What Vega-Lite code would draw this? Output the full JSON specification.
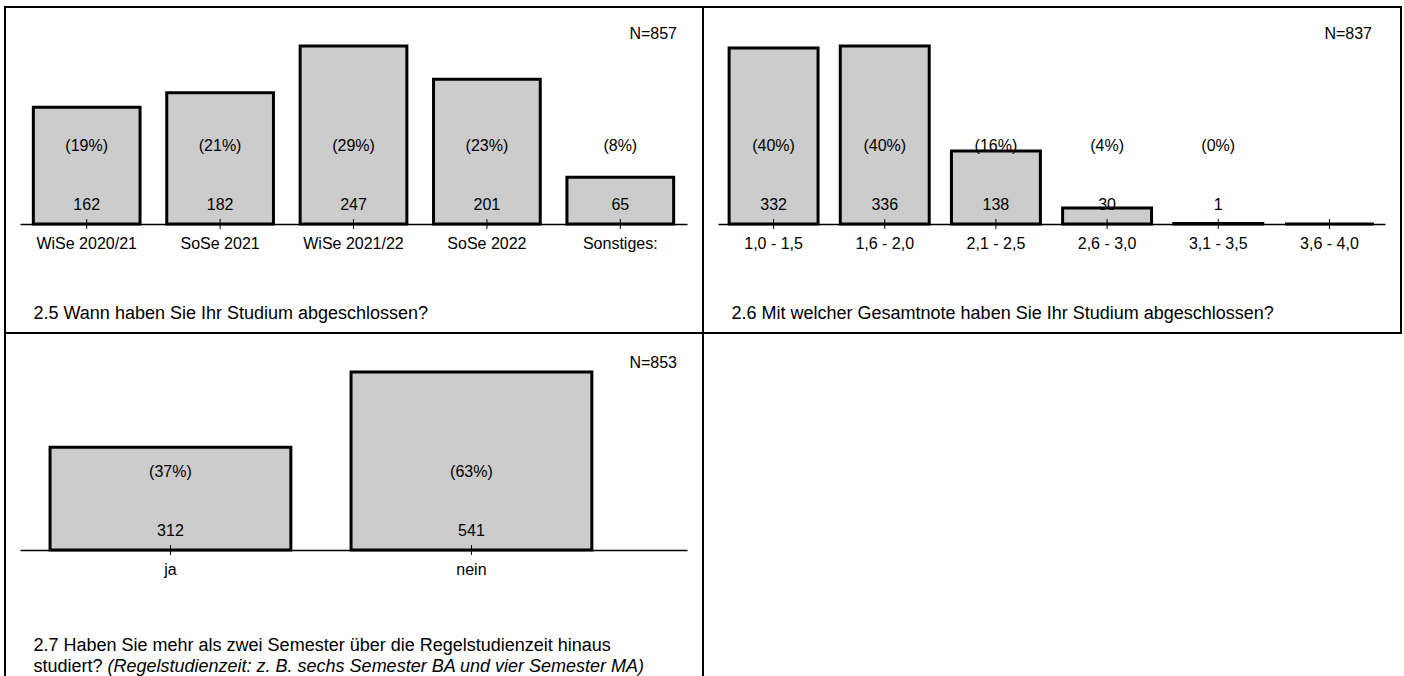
{
  "$schema": "https://vega.github.io/schema/vega-lite/v6.json",
  "padding": {"left": 4, "top": 6, "right": 0, "bottom": 0},
  "background": "white",
  "config": {
    "font": "Liberation Sans",
    "view": {"stroke": "black", "strokeWidth": 2},
    "text": {"fontSize": 16, "color": "black"},
    "title": {"fontSize": 16, "fontWeight": "normal", "color": "black"}
  },
  "columns": 2,
  "spacing": 0,
  "bounds": "flush",
  "concat": [
    {
      "width": 698,
      "height": 326,
      "title": {"text": "N=857", "anchor": "end", "frame": "group", "offset": 0, "dy": 35, "dx": -26},
      "data": {"values": [
        {"k": "WiSe 2020/21", "n": 162, "p": "(19%)"},
        {"k": "SoSe 2021", "n": 182, "p": "(21%)"},
        {"k": "WiSe 2021/22", "n": 247, "p": "(29%)"},
        {"k": "SoSe 2022", "n": 201, "p": "(23%)"},
        {"k": "Sonstiges:", "n": 65, "p": "(8%)"}
      ]},
      "encoding": {
        "x": {"field": "k", "type": "nominal", "sort": null,
          "scale": {"range": [15, 682], "paddingInner": 0.2, "paddingOuter": 0.1},
          "axis": {"orient": "bottom", "offset": -109, "domainColor": "black", "domainWidth": 1.5, "ticks": false, "tickSize": 0,
            "labelPadding": 11, "labelFontSize": 16, "labelColor": "black", "labelAngle": 0, "grid": false,
            "title": "2.5 Wann haben Sie Ihr Studium abgeschlossen?", "titleAnchor": "start", "titleAlign": "left",
            "titleX": 28, "titleY": 89, "titleBaseline": "middle", "titleFontSize": 18, "titleFontWeight": "normal", "titleColor": "black", "zindex": 1}}
      },
      "layer": [
        {"mark": {"type": "bar", "fill": "#cccccc", "stroke": "black", "strokeWidth": 3},
         "encoding": {"y": {"field": "n", "type": "quantitative", "scale": {"range": [217, 39], "nice": false, "zero": true}, "axis": null}}},
        {"mark": {"type": "tick", "orient": "vertical", "size": 10, "thickness": 1, "color": "black", "opacity": 1},
         "encoding": {"y": {"datum": 0}}},
        {"mark": {"type": "text", "dy": -19, "baseline": "middle"}, "transform": [{"filter": "datum.n > 0"}],
         "encoding": {"y": {"datum": 0}, "text": {"field": "n", "type": "quantitative"}}},
        {"mark": {"type": "text", "dy": -78, "baseline": "middle"},
         "encoding": {"y": {"datum": 0}, "text": {"field": "p", "type": "nominal"}}}
      ]
    },
    {
      "width": 698,
      "height": 326,
      "title": {"text": "N=837", "anchor": "end", "frame": "group", "offset": 0, "dy": 35, "dx": -29},
      "data": {"values": [
        {"k": "1,0 - 1,5", "n": 332, "p": "(40%)"},
        {"k": "1,6 - 2,0", "n": 336, "p": "(40%)"},
        {"k": "2,1 - 2,5", "n": 138, "p": "(16%)"},
        {"k": "2,6 - 3,0", "n": 30, "p": "(4%)"},
        {"k": "3,1 - 3,5", "n": 1, "p": "(0%)"},
        {"k": "3,6 - 4,0", "n": 0, "p": ""}
      ]},
      "encoding": {
        "x": {"field": "k", "type": "nominal", "sort": null,
          "scale": {"range": [15, 682], "paddingInner": 0.2, "paddingOuter": 0.1},
          "axis": {"orient": "bottom", "offset": -109, "domainColor": "black", "domainWidth": 1.5, "ticks": false, "tickSize": 0,
            "labelPadding": 11, "labelFontSize": 16, "labelColor": "black", "labelAngle": 0, "grid": false,
            "title": "2.6 Mit welcher Gesamtnote haben Sie Ihr Studium abgeschlossen?", "titleAnchor": "start", "titleAlign": "left",
            "titleX": 28, "titleY": 89, "titleBaseline": "middle", "titleFontSize": 18, "titleFontWeight": "normal", "titleColor": "black", "zindex": 1}}
      },
      "layer": [
        {"mark": {"type": "bar", "fill": "#cccccc", "stroke": "black", "strokeWidth": 3},
         "encoding": {"y": {"field": "n", "type": "quantitative", "scale": {"range": [217, 39], "nice": false, "zero": true}, "axis": null}}},
        {"mark": {"type": "tick", "orient": "vertical", "size": 10, "thickness": 1, "color": "black", "opacity": 1},
         "encoding": {"y": {"datum": 0}}},
        {"mark": {"type": "text", "dy": -19, "baseline": "middle"}, "transform": [{"filter": "datum.n > 0"}],
         "encoding": {"y": {"datum": 0}, "text": {"field": "n", "type": "quantitative"}}},
        {"mark": {"type": "text", "dy": -78, "baseline": "middle"},
         "encoding": {"y": {"datum": 0}, "text": {"field": "p", "type": "nominal"}}}
      ]
    },
    {
      "width": 698,
      "height": 344,
      "title": {"text": "N=853", "anchor": "end", "frame": "group", "offset": 0, "dy": 38, "dx": -26},
      "data": {"values": [
        {"k": "ja", "n": 312, "p": "(37%)"},
        {"k": "nein", "n": 541, "p": "(63%)"}
      ]},
      "encoding": {
        "x": {"field": "k", "type": "nominal", "sort": null,
          "scale": {"range": [15, 682], "paddingInner": 0.2, "paddingOuter": 0.208, "align": 0.24},
          "axis": {"orient": "bottom", "offset": -127, "domainColor": "black", "domainWidth": 1.5, "ticks": false, "tickSize": 0,
            "labelPadding": 11, "labelFontSize": 16, "labelColor": "black", "labelAngle": 0, "grid": false,
            "title": ["2.7 Haben Sie mehr als zwei Semester über die Regelstudienzeit hinaus", "studiert?"], "titleAnchor": "start", "titleAlign": "left",
            "titleX": 28, "titleY": 100, "titleBaseline": "alphabetic", "titleLineHeight": 21, "titleFontSize": 18, "titleFontWeight": "normal", "titleColor": "black", "zindex": 1}}
      },
      "layer": [
        {"mark": {"type": "bar", "fill": "#cccccc", "stroke": "black", "strokeWidth": 3},
         "encoding": {"y": {"field": "n", "type": "quantitative", "scale": {"range": [217, 39], "nice": false, "zero": true},
           "axis": {"domain": false, "ticks": false, "labels": false, "grid": false,
             "title": "(Regelstudienzeit: z. B. sechs Semester BA und vier Semester MA)", "titleAngle": 0, "titleX": 102, "titleY": 338,
             "titleAlign": "left", "titleBaseline": "alphabetic", "titleFontStyle": "italic", "titleFontSize": 18, "titleFontWeight": "normal", "titleColor": "black"}}}},
        {"mark": {"type": "tick", "orient": "vertical", "size": 10, "thickness": 1, "color": "black", "opacity": 1},
         "encoding": {"y": {"datum": 0}}},
        {"mark": {"type": "text", "dy": -19, "baseline": "middle"}, "transform": [{"filter": "datum.n > 0"}],
         "encoding": {"y": {"datum": 0}, "text": {"field": "n", "type": "quantitative"}}},
        {"mark": {"type": "text", "dy": -78, "baseline": "middle"},
         "encoding": {"y": {"datum": 0}, "text": {"field": "p", "type": "nominal"}}}
      ]
    },
    {
      "width": 698,
      "height": 344,
      "data": {"values": [{"t": ""}]},
      "mark": {"type": "text"},
      "encoding": {"text": {"field": "t", "type": "nominal"}}
    }
  ]
}
